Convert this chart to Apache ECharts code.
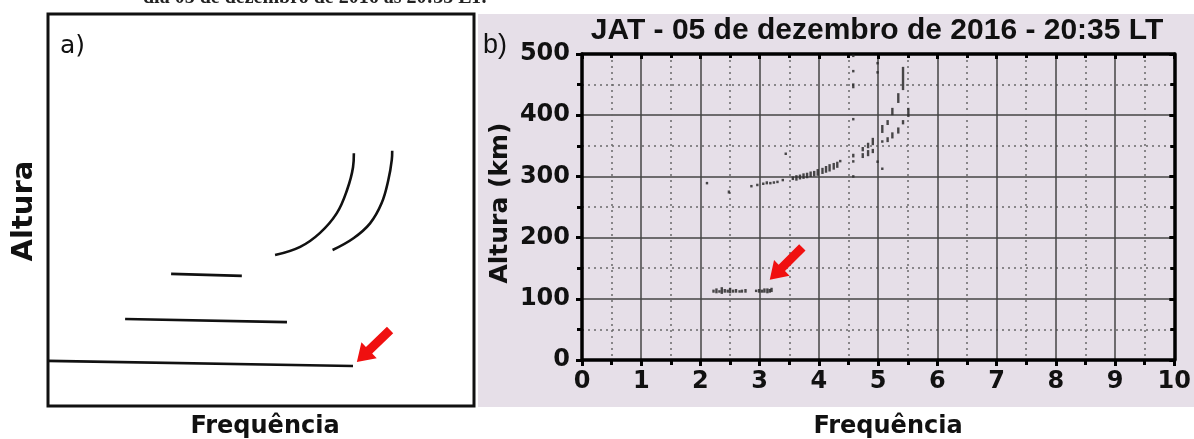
<!DOCTYPE html>
<html><head><meta charset="utf-8">
<script src="https://cdn.jsdelivr.net/npm/echarts@6/dist/echarts.min.js"></script>
<style>html,body{margin:0;padding:0;background:#fff;}#c{width:1194px;height:439px;}</style>
</head><body><div id="c"></div>
<script>
// ---------- Panel a (schematic, arbitrary 0-100 units) ----------
const schemLine1 = [[0, 11.5], [71.6, 10.2]];
const schemLine2 = [[18.1, 22.2], [56.1, 21.4]];
const schemLine3 = [[28.9, 33.7], [45.5, 33.2]];
const schemCurve1 = [[53.3, 38.5], [59.2, 40.6], [63.8, 44.1], [67.8, 49.2], [70.2, 55.1], [71.6, 60.9], [71.8, 64.5]];
const schemCurve2 = [[66.8, 39.8], [71.7, 42.8], [75.6, 46.6], [78.3, 51.7], [79.9, 57.7], [80.7, 62.8], [80.8, 65.1]];
const arrowA = [[80.3, 19.4, 72.5, 11.2]];

// ---------- Panel b (ionogram) ----------
const freqTicks = [0, 1, 2, 3, 4, 5, 6, 7, 8, 9, 10];
const heightTicks = [0, 100, 200, 300, 400, 500];
// [frequency (MHz), height low (km), height high (km)]
const fLayer = [
  [2.11, 288, 290], [2.48, 272, 277], [2.86, 283, 285], [2.96, 285, 287],
  [3.06, 286, 290], [3.12, 287, 292], [3.18, 287, 291], [3.24, 288, 292], [3.30, 289, 293],
  [3.39, 292, 296], [3.44, 336, 338],
  [3.56, 294, 300], [3.62, 293, 302], [3.68, 295, 303], [3.74, 296, 305], [3.80, 297, 306],
  [3.86, 299, 308], [3.92, 300, 309], [3.98, 301, 312], [4.06, 304, 314], [4.12, 306, 317],
  [4.18, 308, 320], [4.25, 311, 322], [4.31, 314, 324], [4.36, 324, 326],
  [4.58, 496, 498], [4.58, 471, 473], [4.58, 444, 452], [4.58, 392, 395],
  [4.58, 331, 337], [4.58, 323, 326], [4.58, 299, 301],
  [4.74, 341, 348], [4.74, 330, 338], [4.83, 346, 355], [4.83, 333, 343],
  [4.91, 351, 363], [4.91, 338, 345],
  [4.99, 323, 325], [4.99, 484, 486], [4.99, 469, 471],
  [5.07, 311, 314], [5.07, 371, 384], [5.07, 355, 359],
  [5.16, 384, 392], [5.16, 356, 364],
  [5.24, 362, 372], [5.24, 400, 412],
  [5.34, 370, 380], [5.34, 420, 436],
  [5.42, 385, 392], [5.42, 441, 479],
  [5.51, 397, 412]
];
const eLayer = [
  [2.22, 110, 115], [2.27, 109, 117], [2.32, 110, 114], [2.36, 108, 119], [2.41, 110, 116],
  [2.46, 110, 115], [2.50, 109, 118], [2.55, 110, 115], [2.60, 110, 116], [2.66, 110, 114],
  [2.70, 110, 115], [2.76, 110, 116],
  [2.94, 112, 114], [2.99, 110, 116], [3.04, 110, 115], [3.08, 110, 117], [3.13, 109, 117],
  [3.17, 110, 116], [3.20, 111, 118]
];
const arrowB = [[3.72, 184, 3.17, 131]];

const chart = echarts.init(document.getElementById('c'), null, {renderer: 'canvas'});

function barItem(params, api) {
  const p1 = api.coord([api.value(0), api.value(1)]);
  const p2 = api.coord([api.value(0), api.value(2)]);
  const mid = (p1[1] + p2[1]) / 2;
  const h = Math.max(2.5, Math.abs(p1[1] - p2[1]));
  return {type: 'rect', shape: {x: p1[0] - 1.2, y: mid - h / 2, width: 2.4, height: h},
    style: {fill: '#2a2a2a', opacity: 0.85}};
}
function arrowItem(params, api) {
  const t = api.coord([api.value(0), api.value(1)]);
  const hd = api.coord([api.value(2), api.value(3)]);
  const dx = hd[0] - t[0], dy = hd[1] - t[1];
  const L = Math.sqrt(dx * dx + dy * dy);
  const ux = dx / L, uy = dy / L, nx = -uy, ny = ux;
  const sw = 4.5, hw = 11, hl = 17;
  const nk = [hd[0] - ux * hl, hd[1] - uy * hl];
  const pts = [
    [t[0] + nx * sw, t[1] + ny * sw], [nk[0] + nx * sw, nk[1] + ny * sw], [nk[0] + nx * hw, nk[1] + ny * hw],
    hd, [nk[0] - nx * hw, nk[1] - ny * hw], [nk[0] - nx * sw, nk[1] - ny * sw], [t[0] - nx * sw, t[1] - ny * sw]
  ];
  return {type: 'polygon', shape: {points: pts}, style: {fill: '#f01010'}};
}

const majorLine = {show: true, lineStyle: {color: '#444', width: 1.5}};
const minorLine = {show: true, lineStyle: {color: '#6a6a6a', width: 1.5, type: [2, 4]}};
const tickLabel = {fontFamily: 'DejaVu Sans', fontWeight: 'bold', fontSize: 24, color: '#111'};

const schemStyle = {color: '#111', width: 2.6};
function schemSeries(data, smooth) {
  return {type: 'line', xAxisIndex: 0, yAxisIndex: 0, data: data, showSymbol: false, symbol: 'none',
    smooth: smooth ? 0.4 : false, lineStyle: schemStyle, silent: true, animation: false};
}

chart.setOption({
  animation: false,
  graphic: [
    {type: 'rect', z: -10, shape: {x: 478, y: 14, width: 716, height: 393}, style: {fill: '#e6dfe8'}},
    {type: 'text', left: 143, top: -12, style: {text: 'dia 05 de dezembro de 2016 às 20:35 LT.', font: 'bold 20px "Liberation Serif"', fill: '#222'}},
    {type: 'text', x: 60, y: 34, style: {text: 'a)', font: '25px "DejaVu Sans"', fill: '#111'}},
    {type: 'text', x: 24, y: 211, rotation: Math.PI / 2, style: {text: 'Altura', font: 'bold 29px "DejaVu Sans"', fill: '#111', align: 'center', verticalAlign: 'middle'}},
    {type: 'text', x: 265, y: 427, style: {text: 'Frequência', font: 'bold 24px "DejaVu Sans"', fill: '#111', align: 'center', verticalAlign: 'middle'}},
    {type: 'text', x: 888, y: 427, style: {text: 'Frequência', font: 'bold 24px "DejaVu Sans"', fill: '#111', align: 'center', verticalAlign: 'middle'}},
    {type: 'text', x: 483, y: 32, style: {text: 'b)', font: '27px "Liberation Sans"', fill: '#111'}},
    {type: 'text', x: 877, y: 31, style: {text: 'JAT - 05 de dezembro de 2016 - 20:35 LT', font: 'bold 30px "Liberation Sans"', fill: '#111', align: 'center', verticalAlign: 'middle'}},
    {type: 'text', x: 500, y: 203, rotation: Math.PI / 2, style: {text: 'Altura (km)', font: 'bold 25px "DejaVu Sans"', fill: '#111', align: 'center', verticalAlign: 'middle'}}
  ],
  grid: [
    {left: 48, top: 14, width: 426, height: 392, show: true, backgroundColor: '#fff', borderColor: '#111', borderWidth: 3},
    {left: 582, top: 54, width: 601, height: 306, show: false}
  ],
  xAxis: [
    {gridIndex: 0, type: 'value', min: 0, max: 100, show: false},
    {gridIndex: 1, type: 'value', min: 0, max: 10, interval: 1, position: 'bottom',
      axisLine: {show: true, onZero: false, lineStyle: {color: '#000', width: 3.5}},
      axisTick: {show: true, inside: false, length: 6, lineStyle: {color: '#000', width: 3}},
      minorTick: {show: true, splitNumber: 2, length: 5, lineStyle: {color: '#000', width: 3}},
      splitLine: majorLine, minorSplitLine: minorLine,
      axisLabel: Object.assign({margin: 10, formatter: v => (freqTicks.includes(v) ? String(v) : '')}, tickLabel)},
    {gridIndex: 1, type: 'value', min: 0, max: 10, interval: 1, position: 'top',
      axisLine: {show: true, onZero: false, lineStyle: {color: '#000', width: 3.5}},
      axisTick: {show: true, inside: true, length: 5, lineStyle: {color: '#000', width: 3}},
      minorTick: {show: true, splitNumber: 2, length: 4, lineStyle: {color: '#000', width: 3}},
      splitLine: {show: false}, axisLabel: {show: false}}
  ],
  yAxis: [
    {gridIndex: 0, type: 'value', min: 0, max: 100, show: false},
    {gridIndex: 1, type: 'value', min: 0, max: 500, interval: 100, position: 'left',
      axisLine: {show: true, onZero: false, lineStyle: {color: '#000', width: 3.5}},
      axisTick: {show: true, inside: false, length: 6, lineStyle: {color: '#000', width: 3}},
      minorTick: {show: true, splitNumber: 2, length: 5, lineStyle: {color: '#000', width: 3}},
      splitLine: majorLine, minorSplitLine: minorLine,
      axisLabel: Object.assign({margin: 12, formatter: v => (heightTicks.includes(v) ? String(v) : '')}, tickLabel)},
    {gridIndex: 1, type: 'value', min: 0, max: 500, interval: 100, position: 'right',
      axisLine: {show: true, onZero: false, lineStyle: {color: '#000', width: 3.5}},
      axisTick: {show: true, inside: true, length: 5, lineStyle: {color: '#000', width: 3}},
      minorTick: {show: true, splitNumber: 2, length: 4, lineStyle: {color: '#000', width: 3}},
      splitLine: {show: false}, axisLabel: {show: false}}
  ],
  series: [
    schemSeries(schemLine1, false),
    schemSeries(schemLine2, false),
    schemSeries(schemLine3, false),
    schemSeries(schemCurve1, true),
    schemSeries(schemCurve2, true),
    {type: 'custom', xAxisIndex: 0, yAxisIndex: 0, data: arrowA, renderItem: arrowItem, silent: true, z: 5},
    {type: 'custom', xAxisIndex: 1, yAxisIndex: 1, data: fLayer, renderItem: barItem, silent: true, z: 4},
    {type: 'custom', xAxisIndex: 1, yAxisIndex: 1, data: eLayer, renderItem: barItem, silent: true, z: 4},
    {type: 'custom', xAxisIndex: 1, yAxisIndex: 1, data: arrowB, renderItem: arrowItem, silent: true, z: 5}
  ]
});
</script></body></html>
